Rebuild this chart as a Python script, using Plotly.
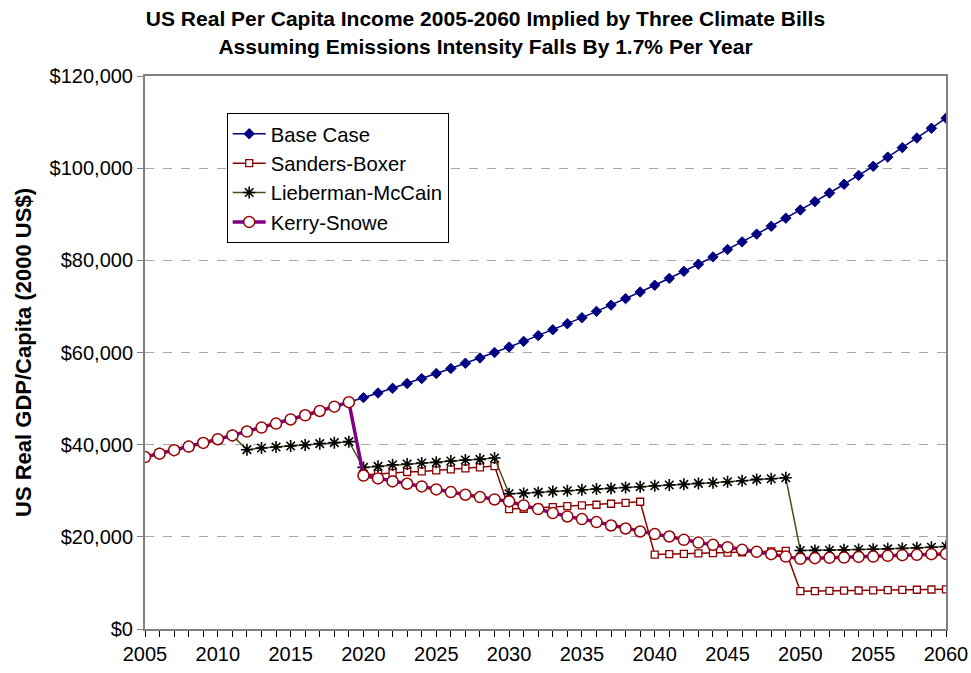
import plotly.graph_objects as go

years = list(range(2005, 2061))

base_case = [37300, 38050, 38810, 39580, 40380, 41180, 42010, 42850, 43700, 44580,
             45470, 46380, 47310, 48250, 49220, 50200, 51210, 52230, 53270, 54340,
             55430, 56530, 57670, 58820, 60000, 61200, 62420, 63670, 64940, 66240,
             67560, 68920, 70290, 71700, 73130, 74600, 76090, 77610, 79160, 80750,
             82360, 84010, 85690, 87400, 89150, 90930, 92750, 94610, 96500, 98430,
             100400, 102400, 104450, 106540, 108670, 110850]

sanders_boxer = [37300, 38050, 38810, 39580, 40380, 41180, 42010, 42850, 43700, 44580,
                 45470, 46380, 47310, 48250, 49220,
                 33400, 33650, 33850, 34070, 34200, 34420, 34640, 34860, 35070, 35360,
                 26020, 26090, 26300, 26460, 26670, 26810, 26960, 27180, 27390, 27610,
                 16150, 16230, 16310, 16390, 16480, 16560, 16650, 16740, 16830, 16950,
                 8200, 8230, 8270, 8310, 8350, 8390, 8430, 8480, 8520, 8570, 8620]

lieberman_mccain = [37300, 38050, 38810, 39580, 40380, 41180, 42010,
                    38910, 39280, 39500, 39720, 39940, 40220, 40440, 40650,
                    35070, 35290, 35650, 35810, 36020, 36160, 36460, 36670, 36810, 37110,
                    29350, 29420, 29640, 29860, 30000, 30220, 30370, 30510, 30720, 30870,
                    31090, 31240, 31390, 31600, 31740, 31960, 32180, 32460, 32610, 32830,
                    17030, 17060, 17100, 17170, 17240, 17320, 17390, 17460, 17610, 17750, 17900]

kerry_snowe = [37300, 38050, 38810, 39580, 40380, 41180, 42010, 42850, 43700, 44580,
               45470, 46380, 47310, 48250, 49220,
               33300, 32680, 32030, 31520, 30940, 30290, 29710, 29130, 28630, 28110,
               27680, 26810, 26020, 25150, 24420, 23850, 23200, 22460, 21810, 21160,
               20590, 20070, 19350, 18760, 18260, 17760, 17170, 16740, 16240, 15720,
               15220, 15370, 15440, 15500, 15650, 15720, 15870, 16020, 16090, 16240, 16300]

y_tickvals = [0, 20000, 40000, 60000, 80000, 100000, 120000]
y_ticktext = ["$0", "$20,000", "$40,000", "$60,000", "$80,000", "$100,000", "$120,000"]
x_tickvals = [2005, 2010, 2015, 2020, 2025, 2030, 2035, 2040, 2045, 2050, 2055, 2060]

FONT = "Liberation Sans, Arial, sans-serif"

fig = go.Figure()

fig.add_trace(go.Scatter(
    x=years, y=base_case, name="Base Case", mode="lines+markers",
    line=dict(color="#000080", width=1.5),
    marker=dict(symbol="diamond", size=8, color="#000080",
                line=dict(color="#000080", width=1))))

fig.add_trace(go.Scatter(
    x=years, y=sanders_boxer, name="Sanders-Boxer", mode="lines+markers",
    line=dict(color="#8B0000", width=1.5),
    marker=dict(symbol="square", size=7, color="white",
                line=dict(color="#8B0000", width=1.3))))

fig.add_trace(go.Scatter(
    x=years, y=lieberman_mccain, name="Lieberman-McCain", mode="lines+markers",
    line=dict(color="#4d4d1a", width=1.5),
    marker=dict(symbol="asterisk-open", size=10, color="black",
                line=dict(color="black", width=1.6))))

fig.add_trace(go.Scatter(
    x=years, y=kerry_snowe, name="Kerry-Snowe", mode="lines+markers",
    line=dict(color="#800080", width=3.5),
    marker=dict(symbol="circle", size=11, color="white",
                line=dict(color="#990000", width=1.5))))

fig.update_layout(
    width=971, height=673,
    margin=dict(l=145, r=25, t=76, b=44, autoexpand=False),
    paper_bgcolor="white", plot_bgcolor="white",
    font=dict(family=FONT, size=20, color="black"),
    title=dict(
        text="US Real Per Capita Income 2005-2060 Implied by Three Climate Bills<br>"
             "Assuming Emissions Intensity Falls By 1.7% Per Year",
        x=0.5, xanchor="center", xref="container", y=0.961, yanchor="middle", yref="container",
        font=dict(family=FONT, size=21, color="black", weight="bold")),
    showlegend=True,
    legend=dict(
        x=0.102, y=0.933, xanchor="left", yanchor="top",
        bgcolor="white", bordercolor="black", borderwidth=1,
        font=dict(family=FONT, size=20.3, color="black"),
        tracegroupgap=0, itemwidth=33),
    xaxis=dict(
        range=[2005, 2060], tickmode="array", tickvals=x_tickvals,
        ticks="outside", ticklen=6, tickcolor="#000000", tickwidth=1,
        minor=dict(dtick=1, ticks="outside", ticklen=6, tickcolor="#000000", tickwidth=1),
        showline=True, linecolor="#808080", linewidth=2, mirror=True,
        showgrid=False, zeroline=False,
        tickfont=dict(family=FONT, size=20, color="black")),
    yaxis=dict(
        range=[0, 120000], tickmode="array", tickvals=y_tickvals, ticktext=y_ticktext,
        ticks="outside", ticklen=6, tickcolor="#808080", tickwidth=1,
        showline=True, linecolor="#808080", linewidth=2, mirror=True,
        showgrid=True, gridcolor="#a6a6a6", gridwidth=1, griddash="dash",
        zeroline=False,
        title=dict(text="US Real GDP/Capita (2000 US$)", standoff=12,
                   font=dict(family=FONT, size=22, color="black", weight="bold")),
        tickfont=dict(family=FONT, size=20, color="black")),
)

fig.write_html("out.html")
